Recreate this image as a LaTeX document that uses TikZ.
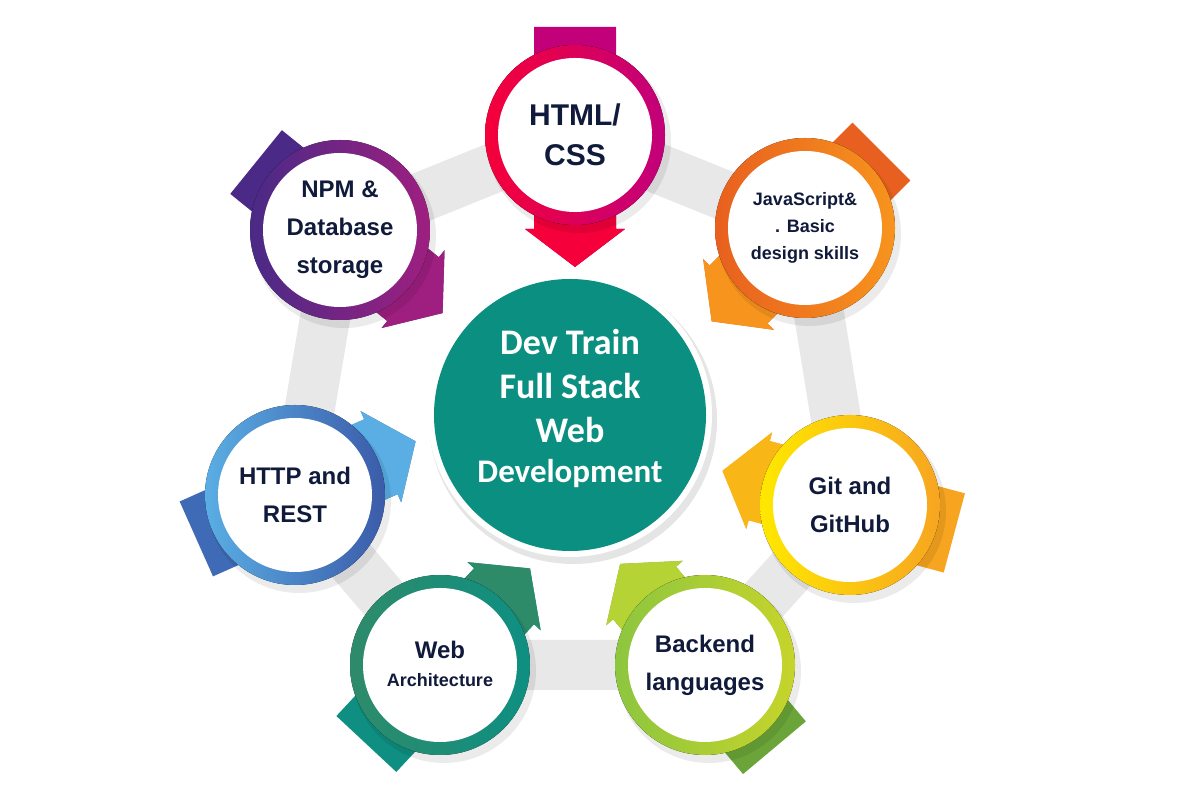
\documentclass[tikz,border=0pt]{standalone}
\usepackage{fontspec}
\setmainfont{Liberation Sans}
\newfontfamily\calib{Carlito}
\definecolor{navy}{HTML}{101A3A}
\definecolor{teal1}{HTML}{0B8F80}
\definecolor{band}{HTML}{E8E8E8}
\tikzset{
  lbl/.style={align=center,text=navy,font=\bfseries\fontsize{24}{38}\selectfont},
}
% #1 cx, #2 cy, #3 angle, #4 tail, #5 head, #6 ring left, #7 ring right, #8 name
\newcommand{\ringitem}[8]{%
  \begin{scope}[shift={(#1,#2)},rotate=#3]
    \fill[#4] (-108,-41) -- (94,-41) -- (94,-50) -- (132,0) -- (94,50) -- (94,41) -- (-108,41) -- cycle;
    \fill[#5] (20,-41) -- (94,-41) -- (94,-50) -- (132,0) -- (94,50) -- (94,41) -- (20,41) -- cycle;
  \end{scope}
  \fill[black,opacity=0.08] (#1+4,#2-6) circle (92);
  \fill[left color=#6,right color=#7] (#1,#2) circle (90);
  \fill[white] (#1,#2) circle (77);
  \coordinate (#8) at (#1,#2);
}
\definecolor{hA}{HTML}{C2007A}\definecolor{hB}{HTML}{F5003A}
\definecolor{jA}{HTML}{E8601F}\definecolor{jB}{HTML}{F7941D}
\definecolor{gA}{HTML}{F7A520}\definecolor{gB}{HTML}{F8B617}\definecolor{gC}{HTML}{FFE800}
\definecolor{bA}{HTML}{6BA539}\definecolor{bB}{HTML}{B5D334}\definecolor{bC}{HTML}{8DC63F}\definecolor{bD}{HTML}{C6D42B}
\definecolor{wA}{HTML}{0E8F82}\definecolor{wB}{HTML}{2E8B6A}
\definecolor{tA}{HTML}{3F6AB5}\definecolor{tB}{HTML}{5AAEE4}\definecolor{tC}{HTML}{3B5BA9}
\definecolor{nA}{HTML}{4A2A86}\definecolor{nB}{HTML}{9E1F80}
\begin{document}
\begin{tikzpicture}[x=1pt,y=1pt]
\useasboundingbox (0,0) rectangle (1200,800);
\fill[white] (0,0) rectangle (1200,800);
\draw[band,line width=50pt,line join=miter]
  (575,665) -- (805,572) -- (850,295) -- (705,135) -- (440,135) -- (295,305) -- (340,570) -- cycle;
\ringitem{575}{665}{-90}{hA}{hB}{hB}{hA}{h}
\ringitem{805}{572}{-135}{jA}{jB}{jA}{jB}{j}
\ringitem{850}{295}{165}{gA}{gB}{gC}{gA}{g}
\ringitem{705}{135}{130}{bA}{bB}{bC}{bD}{b}
\ringitem{440}{135}{47}{wA}{wB}{wB}{wA}{w}
\ringitem{295}{305}{24}{tA}{tB}{tB}{tC}{t}
\ringitem{340}{570}{-39}{nA}{nB}{nA}{nB}{n}
\fill[black,opacity=0.10] (573,380) circle (144);
\fill[white] (570,385) circle (142);
\fill[teal1] (570,385) circle (136);
\node[lbl,font=\bfseries\fontsize{30}{40}\selectfont] (hl) at (h) {HTML/\\CSS};
\node[lbl,font=\bfseries\fontsize{18}{27}\selectfont] (jl) at (805,572) {JavaScript\&\\. Basic\\design skills};
\node[lbl] (gl) at (g) {Git and\\GitHub};
\node[lbl] (bl) at (b) {Backend\\languages};
\node[lbl,align=center] (wl) at (440,150) {Web};
\node[lbl,font=\bfseries\fontsize{18}{24}\selectfont] (wl2) at (440,120) {Architecture};
\node[lbl] (tl) at (t) {HTTP and\\REST};
\node[lbl] (nl) at (n) {NPM \&\\Database\\storage};
\node[align=center,text=white,font=\calib\bfseries\fontsize{36}{44}\selectfont] (c) at (570,392)
  {Dev Train\\Full Stack\\Web\\[-4pt]{\fontsize{33}{40}\selectfont Development}};
\end{tikzpicture}
\end{document}
